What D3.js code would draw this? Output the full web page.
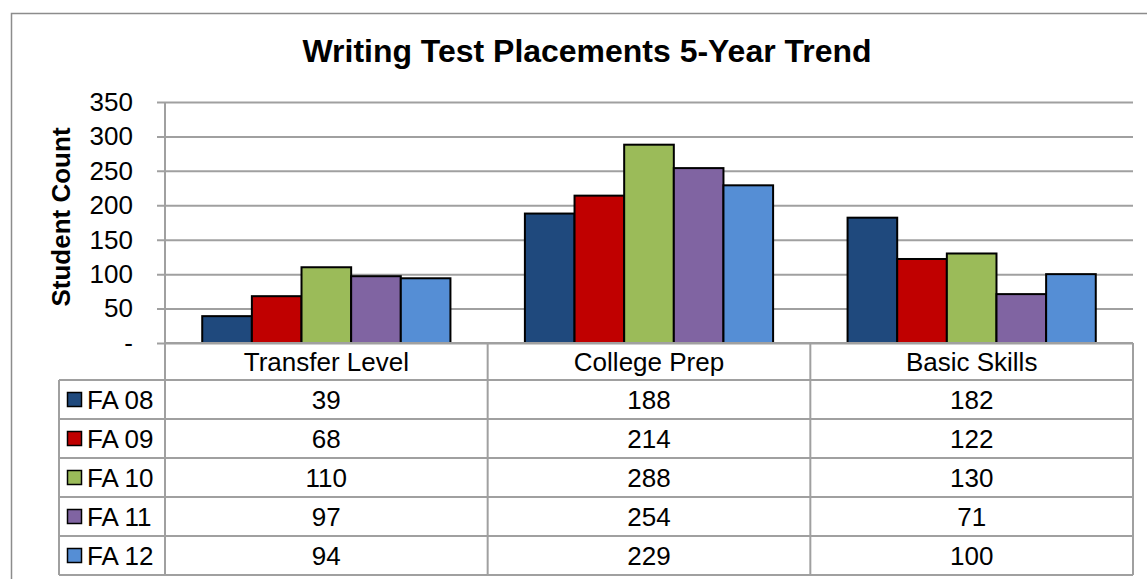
<!DOCTYPE html>
<html>
<head>
<meta charset="utf-8">
<script src="https://cdn.jsdelivr.net/npm/d3@7"></script>
<style>
  html, body { margin: 0; padding: 0; background: #fff; }
  svg { display: block; font-family: "Liberation Sans", Arial, sans-serif; }
</style>
</head>
<body>
<svg id="chart" width="1147" height="579"></svg>
<script>
// Placement categories (x axis) and fall terms (series)
const categories = ["Transfer Level", "College Prep", "Basic Skills"];
const terms = ["FA 08", "FA 09", "FA 10", "FA 11", "FA 12"];
const fa08 = [39, 188, 182];
const fa09 = [68, 214, 122];
const fa10 = [110, 288, 130];
const fa11 = [97, 254, 71];
const fa12 = [94, 229, 100];
const yTicks = [0, 50, 100, 150, 200, 250, 300, 350];
const colors = ["#1F497D", "#C00000", "#9BBB59", "#8064A2", "#558ED5"];

const seriesValues = [fa08, fa09, fa10, fa11, fa12];
const rows = terms.map((t, i) => ({ term: t, values: seriesValues[i], color: colors[i] }));

const svg = d3.select("#chart");
const gridColor = "#a0a0a0";

// Chart frame
svg.append("path")
  .attr("d", "M11.5,579 L11.5,13.5 L1147,13.5")
  .attr("fill", "none").attr("stroke", "#8c8c8c").attr("stroke-width", 1.5);

// Plot geometry
const plotLeft = 165, plotRight = 1133, plotTop = 102, plotBottom = 343;
const tableTop = 380, tableBottom = 575, legendLeft = 59;

const y = d3.scaleLinear().domain([0, 350]).range([plotBottom, plotTop]);
const x0 = d3.scaleBand().domain(categories).range([plotLeft, plotRight]);
const bw = x0.bandwidth();
const gapSide = bw * 0.75 / 6.5;
const x1 = d3.scaleBand().domain(terms).range([gapSide, bw - gapSide]);

// Title
svg.append("text")
  .attr("x", 587).attr("y", 62)
  .attr("text-anchor", "middle")
  .attr("font-size", 31).attr("font-weight", "bold")
  .attr("textLength", 569).attr("lengthAdjust", "spacingAndGlyphs")
  .text("Writing Test Placements 5-Year Trend");

// Y axis title
svg.append("text")
  .attr("transform", "translate(70,217) rotate(-90)")
  .attr("text-anchor", "middle")
  .attr("font-size", 26).attr("font-weight", "bold")
  .text("Student Count");

// Gridlines and y axis
const yAxis = d3.axisLeft(y)
  .tickValues(yTicks)
  .tickSize(plotRight - plotLeft + 8)
  .tickPadding(24)
  .tickFormat(d => d === 0 ? "-" : d);
const gy = svg.append("g")
  .attr("transform", `translate(${plotRight},0)`)
  .call(yAxis);
gy.select(".domain").remove();
gy.selectAll(".tick line").attr("stroke", gridColor).attr("stroke-width", 2);
gy.selectAll(".tick text")
  .attr("font-size", 26).attr("fill", "#000")
  .attr("font-family", "Liberation Sans, Arial, sans-serif")
  .attr("x", -(plotRight - plotLeft) - 32);

// Bars
const groups = svg.append("g").selectAll("g")
  .data(categories)
  .join("g")
  .attr("transform", c => `translate(${x0(c)},0)`);
groups.selectAll("rect")
  .data((c, ci) => rows.map(r => ({ term: r.term, value: r.values[ci], color: r.color })))
  .join("rect")
  .attr("x", d => x1(d.term))
  .attr("width", x1.bandwidth())
  .attr("y", d => y(d.value))
  .attr("height", d => y(0) - y(d.value))
  .attr("fill", d => d.color)
  .attr("stroke", "#000").attr("stroke-width", 2);

// Data table
const rowY = d3.scaleBand().domain(terms).range([tableTop, tableBottom]);
const table = svg.append("g").attr("stroke", gridColor).attr("stroke-width", 2).attr("fill", "none");

// horizontal lines
table.append("line").attr("x1", plotLeft).attr("x2", plotRight).attr("y1", plotBottom).attr("y2", plotBottom);
[tableTop].concat(terms.map(t => rowY(t) + rowY.bandwidth())).forEach(yy => {
  table.append("line").attr("x1", legendLeft).attr("x2", plotRight).attr("y1", yy).attr("y2", yy);
});
// vertical lines
table.append("line").attr("x1", legendLeft).attr("x2", legendLeft).attr("y1", tableTop).attr("y2", tableBottom);
table.append("line").attr("x1", plotLeft).attr("x2", plotLeft).attr("y1", plotTop).attr("y2", tableBottom);
categories.forEach(c => {
  const xx = x0(c) + bw;
  table.append("line").attr("x1", xx).attr("x2", xx).attr("y1", plotBottom).attr("y2", tableBottom);
});

// Category headers
svg.append("g").selectAll("text")
  .data(categories)
  .join("text")
  .attr("x", c => x0(c) + bw / 2)
  .attr("y", (plotBottom + tableTop) / 2 + 9)
  .attr("text-anchor", "middle")
  .attr("font-size", 26)
  .text(c => c);

// Legend keys and term labels
const legend = svg.append("g").selectAll("g")
  .data(rows)
  .join("g")
  .attr("transform", r => `translate(0,${rowY(r.term)})`);
legend.append("rect")
  .attr("x", 67.5).attr("y", rowY.bandwidth() / 2 - 7)
  .attr("width", 14).attr("height", 14)
  .attr("fill", r => r.color)
  .attr("stroke", "#000").attr("stroke-width", 1.5);
legend.append("text")
  .attr("x", 87).attr("y", rowY.bandwidth() / 2 + 9.5)
  .attr("font-size", 26)
  .text(r => r.term);

// Cell values
legend.each(function (r) {
  d3.select(this).selectAll("text.val")
    .data(categories.map((c, ci) => ({ c, v: r.values[ci] })))
    .join("text")
    .attr("class", "val")
    .attr("x", d => x0(d.c) + bw / 2)
    .attr("y", rowY.bandwidth() / 2 + 9.5)
    .attr("text-anchor", "middle")
    .attr("font-size", 26)
    .text(d => d.v);
});
</script>
</body>
</html>
